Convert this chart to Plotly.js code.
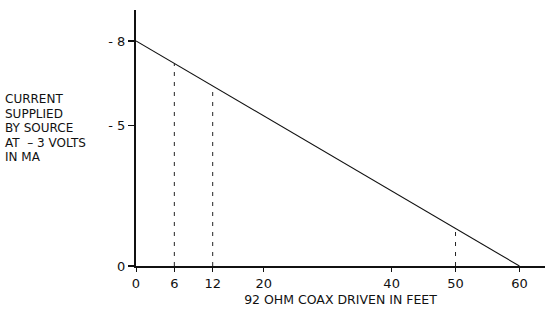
<!DOCTYPE html>
<html>
<head>
<meta charset="utf-8">
<script src="https://cdn.plot.ly/plotly-3.0.1.min.js"></script>
<style>html,body{margin:0;padding:0;background:#fff;}#chart{width:547px;height:316px;}</style>
</head>
<body>
<div id="chart"></div>
<script>
// Data
const lineFeet = [0, 60];
const lineCurrent = [-8, 0];
const markFeet = [6, 12, 50];
const markCurrent = [-7.2, -6.4, -1.33];
const xTickVals = [0, 6, 12, 20, 40, 50, 60];
const xTickText = ['0', '6', '12', '20', '40', '50', '60'];
const yTickVals = [-8, -5, 0];
const yTickText = ['- 8', '- 5', '0'];
const yTitleLines = ['CURRENT', 'SUPPLIED', 'BY SOURCE', 'AT  \u2013 3 VOLTS', 'IN MA'];
const xTitle = '92 OHM COAX DRIVEN IN FEET';

const fam = 'DejaVu Sans, Verdana, sans-serif';
const ink = '#111';

const traces = [{
  x: lineFeet, y: lineCurrent, mode: 'lines', type: 'scatter',
  line: {color: ink, width: 1.1}, hoverinfo: 'skip', showlegend: false
}];
markFeet.forEach((f, i) => {
  traces.push({
    x: [f, f], y: [0, markCurrent[i]], mode: 'lines', type: 'scatter',
    line: {color: '#222', width: 1, dash: '4px,6px'}, hoverinfo: 'skip', showlegend: false
  });
});

const plotH = 256, plotW = 409, marL = 136, marT = 10;
const annotations = yTitleLines.map((t, i) => ({
  xref: 'paper', yref: 'paper',
  x: (3 - marL) / plotW, y: (marT + plotH - (99 + i * 14.5)) / plotH,
  xanchor: 'left', yanchor: 'middle', align: 'left', showarrow: false,
  text: t, font: {family: fam, size: 12, color: ink}
}));

const layout = {
  width: 547, height: 316,
  margin: {l: marL, r: 2, t: marT, b: 50},
  paper_bgcolor: '#fff', plot_bgcolor: '#fff',
  font: {family: fam, color: ink, size: 12},
  showlegend: false,
  xaxis: {
    range: [0, 64], showgrid: false, zeroline: false,
    showline: true, linecolor: ink, linewidth: 2,
    tickmode: 'array', tickvals: xTickVals, ticktext: xTickText,
    ticks: 'outside', ticklen: 4, tickwidth: 1, tickcolor: ink,
    tickfont: {family: fam, size: 13, color: ink},
    title: {text: xTitle, font: {family: fam, size: 12.5, color: ink}, standoff: 6}
  },
  yaxis: {
    range: [0, -9.1], showgrid: false, zeroline: false,
    showline: true, linecolor: ink, linewidth: 2,
    tickmode: 'array', tickvals: yTickVals, ticktext: yTickText,
    ticks: 'outside', ticklen: 6, tickwidth: 1.5, tickcolor: ink,
    tickfont: {family: fam, size: 13, color: ink}
  },
  annotations: annotations
};

Plotly.newPlot('chart', traces, layout, {staticPlot: true, displayModeBar: false});
</script>
</body>
</html>
